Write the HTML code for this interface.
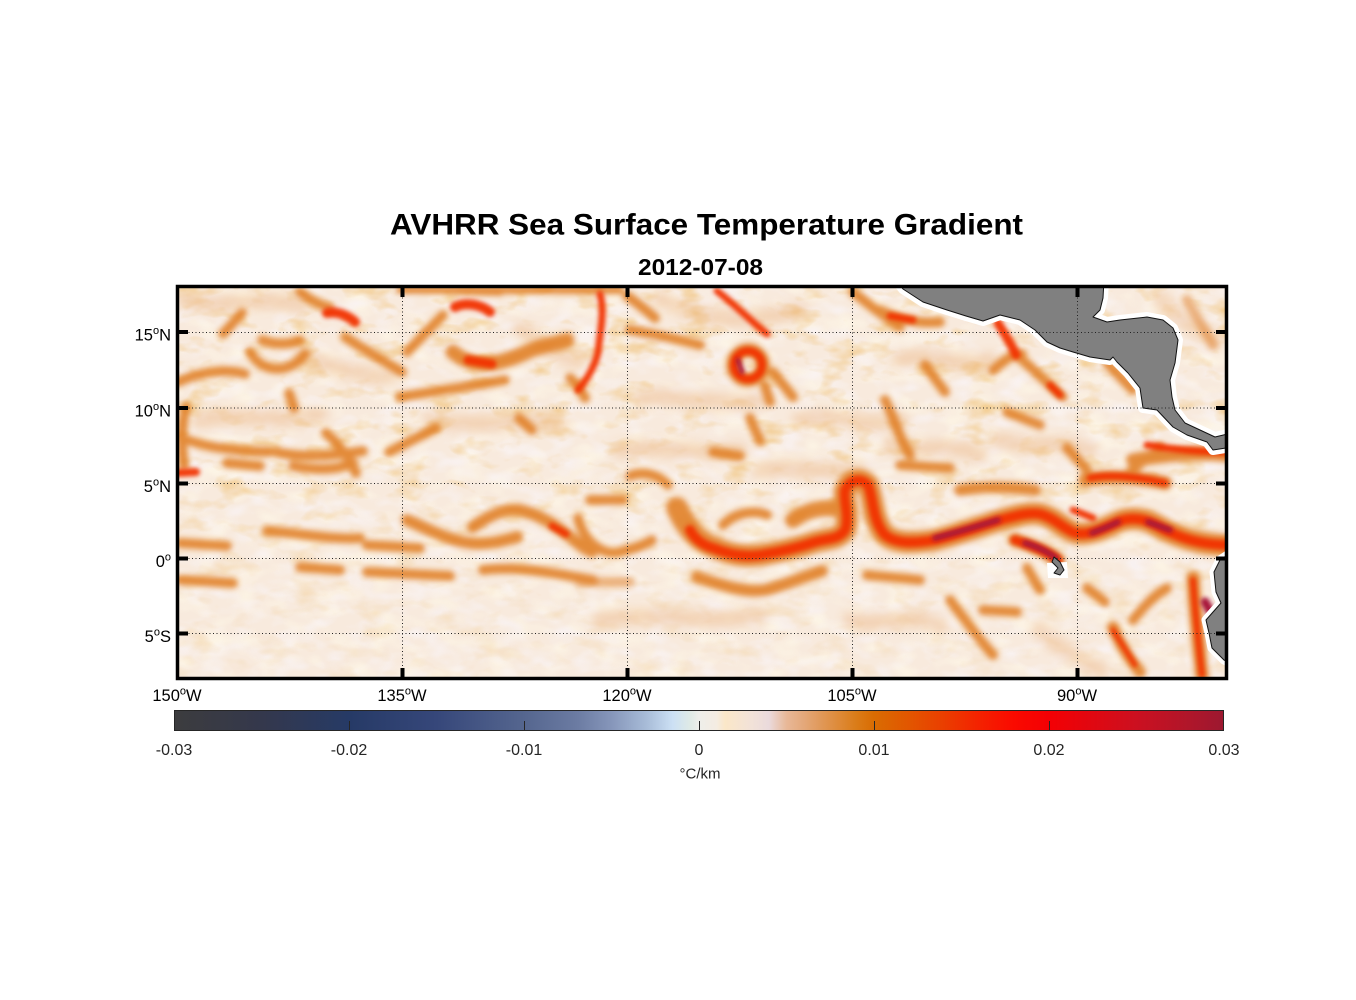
<!DOCTYPE html>
<html><head><meta charset="utf-8"><style>
html,body{margin:0;padding:0;background:#fff;}
svg{display:block;}
</style></head><body>
<svg width="1356" height="1000" viewBox="0 0 1356 1000" xmlns="http://www.w3.org/2000/svg" font-family="'Liberation Sans', Arial, sans-serif">
<defs>
<clipPath id="c"><rect x="178" y="287" width="1048" height="391"/></clipPath>
<filter id="b" x="-5%" y="-5%" width="110%" height="110%"><feGaussianBlur stdDeviation="2.8"/></filter>
<filter id="b1" x="-5%" y="-5%" width="110%" height="110%"><feGaussianBlur stdDeviation="2"/></filter>
<filter id="b2" x="-5%" y="-5%" width="110%" height="110%"><feGaussianBlur stdDeviation="5"/></filter>
<filter id="tex" x="0" y="0" width="100%" height="100%">
<feTurbulence type="fractalNoise" baseFrequency="0.028 0.05" numOctaves="3" seed="7" result="n"/>
<feColorMatrix in="n" type="matrix" values="0 0 0 0 0.87  0 0 0 0 0.52  0 0 0 0 0.16  3.0 0 0 0 -1.6"/>
</filter>
<filter id="tex2" x="0" y="0" width="100%" height="100%">
<feTurbulence type="fractalNoise" baseFrequency="0.04 0.07" numOctaves="2" seed="21" result="n"/>
<feColorMatrix in="n" type="matrix" values="0 0 0 0 0.95  0 0 0 0 0.90  0 0 0 0 0.91  2.6 0 0 0 -1.2"/>
</filter>
<filter id="tex3" x="0" y="0" width="100%" height="100%">
<feTurbulence type="fractalNoise" baseFrequency="0.035 0.06" numOctaves="2" seed="3" result="n"/>
<feColorMatrix in="n" type="matrix" values="0 0 0 0 0.99  0 0 0 0 0.93  0 0 0 0 0.80  2.6 0 0 0 -1.2"/>
</filter>
<linearGradient id="mg" x1="0" y1="0" x2="0" y2="1">
<stop offset="0" stop-color="#fff" stop-opacity="1"/>
<stop offset="0.5" stop-color="#fff" stop-opacity="0.8"/>
<stop offset="0.7" stop-color="#fff" stop-opacity="0.45"/>
<stop offset="1" stop-color="#fff" stop-opacity="0.3"/>
</linearGradient>
<mask id="m"><rect x="178" y="287" width="1048" height="391" fill="url(#mg)"/></mask>
<linearGradient id="cb" x1="0" y1="0" x2="1" y2="0">
<stop offset="0" stop-color="#3c3c3e"/>
<stop offset=".0833" stop-color="#34384c"/>
<stop offset=".1667" stop-color="#263a66"/>
<stop offset=".25" stop-color="#36477a"/>
<stop offset=".3333" stop-color="#55668f"/>
<stop offset=".3833" stop-color="#6b7ba2"/>
<stop offset=".4167" stop-color="#8696ba"/>
<stop offset=".45" stop-color="#a8bcd8"/>
<stop offset=".475" stop-color="#cce0f4"/>
<stop offset=".4917" stop-color="#dfeae6"/>
<stop offset=".5" stop-color="#eeeeea"/>
<stop offset=".5167" stop-color="#f4ece2"/>
<stop offset=".525" stop-color="#fbe7c8"/>
<stop offset=".55" stop-color="#f2e2d8"/>
<stop offset=".5667" stop-color="#eadadc"/>
<stop offset=".5833" stop-color="#e8b898"/>
<stop offset=".6" stop-color="#e4a87a"/>
<stop offset=".6167" stop-color="#e09858"/>
<stop offset=".6333" stop-color="#de8a38"/>
<stop offset=".65" stop-color="#da7c18"/>
<stop offset=".6667" stop-color="#d96c02"/>
<stop offset=".7" stop-color="#e25600"/>
<stop offset=".7333" stop-color="#ea3e00"/>
<stop offset=".7667" stop-color="#f42200"/>
<stop offset=".8" stop-color="#fa0a00"/>
<stop offset=".8333" stop-color="#f40004"/>
<stop offset=".8667" stop-color="#e4060e"/>
<stop offset=".9167" stop-color="#cc1020"/>
<stop offset=".9667" stop-color="#b0162a"/>
<stop offset="1" stop-color="#9c1830"/>
</linearGradient>
</defs>

<!-- Title -->
<text x="706.5" y="234.5" font-size="30" font-weight="bold" text-anchor="middle" textLength="633" lengthAdjust="spacingAndGlyphs" fill="#000">AVHRR Sea Surface Temperature Gradient</text>
<text x="700.5" y="275" font-size="23" font-weight="bold" text-anchor="middle" textLength="125" lengthAdjust="spacingAndGlyphs" fill="#000">2012-07-08</text>

<!-- Map field -->
<g clip-path="url(#c)">
<rect x="178" y="287" width="1048" height="391" fill="#f8eadd"/>
<rect x="178" y="287" width="1048" height="391" filter="url(#tex3)" opacity=".8"/>
<rect x="178" y="287" width="1048" height="391" filter="url(#tex2)" opacity=".8"/>
<g mask="url(#m)"><rect x="178" y="287" width="1048" height="391" filter="url(#tex)" opacity=".75"/></g>
<!-- faint wash -->
<g filter="url(#b2)" fill="none" stroke="#ecb684" stroke-width="16" stroke-linecap="round" opacity=".45">
<path d="M185,300 C230,310 260,295 300,305"/>
<path d="M200,420 C240,410 270,425 320,415"/>
<path d="M430,420 C470,430 520,415 560,425"/>
<path d="M640,400 C680,390 720,410 760,400"/>
<path d="M800,420 C830,410 860,430 900,420"/>
<path d="M900,360 C930,350 960,370 990,360"/>
<path d="M620,450 C660,445 700,455 740,450"/>
<path d="M760,470 C800,465 830,475 860,470"/>
<path d="M600,620 C650,610 700,625 760,615"/>
<path d="M850,620 C880,630 910,610 940,625"/>
<path d="M1040,630 C1060,650 1080,660 1100,670"/>
<path d="M1160,300 C1180,320 1200,330 1215,340"/>
<path d="M890,445 C920,455 950,440 980,455"/>
<path d="M1000,440 C1030,450 1060,440 1090,450"/>
<path d="M300,355 C330,365 360,380 390,375"/>
<path d="M520,330 C540,340 560,360 580,360"/>
<path d="M660,300 C690,310 720,330 800,310"/>
</g>
<!-- orange fronts -->
<g filter="url(#b)" fill="none" stroke="#e07a1c" stroke-width="10" stroke-linecap="round" stroke-linejoin="round" opacity=".85">
<path d="M178,382 C200,372 225,368 245,374"/>
<path d="M250,352 C262,374 290,374 305,354"/>
<path d="M223,334 L242,313"/>
<path d="M345,337 C365,350 385,362 402,372"/>
<path d="M407,352 L443,315"/>
<path d="M400,397 C430,392 470,386 505,380"/>
<path d="M186,407 C180,430 182,450 184,465"/>
<path d="M180,437 C200,446 230,451 269,452"/>
<path d="M276,452 C300,458 330,456 363,451"/>
<path d="M326,433 C340,445 350,460 356,473"/>
<path d="M389,452 L436,428"/>
<path d="M227,463 L260,466"/>
<path d="M293,466 C320,471 340,469 353,463"/>
<path d="M289,393 L294,408"/>
<path d="M519,418 L532,430"/>
<path d="M400,290 L620,290" stroke-width="8"/>
<path d="M570,378 C578,385 582,392 585,398"/>
<path d="M300,292 C310,300 320,305 330,308"/>
<path d="M262,340 C275,345 290,345 300,340"/>
<path d="M440,290 L500,292" stroke-width="8"/>
<path d="M453,352 C470,366 490,369 527,352 C540,346 555,344 567,340" stroke-width="15"/>
<path d="M627,296 C640,305 648,312 655,318"/>
<path d="M630,330 C660,335 680,340 700,345"/>
<path d="M765,386 L770,402"/>
<path d="M773,372 L793,397"/>
<path d="M750,418 L760,441"/>
<path d="M713,452 L740,456"/>
<path d="M630,476 C645,470 660,476 668,485"/>
<path d="M590,500 L623,500"/>
<path d="M578,518 C585,545 605,556 620,552 C635,548 645,545 652,540"/>
<path d="M723,525 C735,512 755,510 767,515"/>
<path d="M793,520 C810,508 830,505 847,512" stroke-width="16"/>
<path d="M853,292 C870,305 885,318 900,327"/>
<path d="M880,310 C900,320 920,324 940,322"/>
<path d="M1016,355 C1030,365 1048,385 1063,397"/>
<path d="M993,370 C1005,360 1015,352 1022,354"/>
<path d="M885,400 C895,420 900,440 910,455"/>
<path d="M925,365 L945,392"/>
<path d="M1007,412 L1040,425"/>
<path d="M1107,363 L1133,390"/>
<path d="M1067,448 L1087,470"/>
<path d="M900,465 L950,468"/>
<path d="M960,490 C990,485 1015,488 1035,490" stroke-width="12"/>
<path d="M1187,300 C1195,315 1205,330 1213,345" opacity=".6"/>
<path d="M677,508 C685,525 695,540 713,547 C730,555 745,557 760,555 C780,552 800,547 815,542 C828,538 838,540 845,530 C850,518 843,500 845,490 C850,480 860,477 868,485 C874,500 872,520 885,535 C895,543 910,544 935,540 C955,535 975,528 1000,520 C1015,516 1028,512 1040,514 C1055,518 1062,528 1075,533 C1090,536 1105,528 1120,521 C1138,515 1152,522 1165,530 C1185,540 1205,545 1230,545" stroke-width="22"/>
<path d="M1085,480 C1110,475 1140,478 1165,483" stroke-width="14"/>
<path d="M1133,460 C1165,455 1195,452 1226,455" stroke-width="14"/>
<path d="M1130,472 L1160,447"/>
<path d="M180,543 L227,546"/>
<path d="M267,531 C300,533 330,540 360,538"/>
<path d="M367,545 L420,548"/>
<path d="M407,520 C430,530 450,541 470,543 C490,545 505,540 517,537" stroke-width="12"/>
<path d="M473,527 C490,515 505,508 520,510 C540,515 555,525 565,533 C575,540 580,547 592,552" stroke-width="12"/>
<path d="M180,580 L233,583"/>
<path d="M300,567 L340,570"/>
<path d="M367,572 L450,576"/>
<path d="M483,570 C520,565 560,575 593,580"/>
<path d="M697,577 C720,585 745,593 765,590 C785,585 805,576 822,571" stroke-width="12"/>
<path d="M867,575 L920,580"/>
<path d="M580,582 L630,582" opacity=".6"/>
<path d="M950,600 C965,620 980,640 993,655"/>
<path d="M1027,568 L1040,590"/>
<path d="M1087,588 L1105,602"/>
<path d="M983,610 L1017,612"/>
<path d="M1193,578 C1195,610 1198,640 1202,675" stroke-width="14"/>
<path d="M1113,627 C1120,645 1130,660 1140,672" stroke-width="12"/>
<path d="M1133,620 C1145,605 1155,595 1167,588"/>
<path d="M1015,540 C1030,545 1045,550 1058,560" stroke-width="14"/>
<circle cx="748" cy="365" r="15" stroke-width="14"/>
</g>
<!-- red cores -->
<g filter="url(#b1)" fill="none" stroke="#f23000" stroke-width="7" stroke-linecap="round" stroke-linejoin="round" opacity=".95">
<path d="M327,313 C338,311 348,316 355,322" stroke-width="10"/>
<path d="M455,307 C465,302 480,304 490,312" stroke-width="10"/>
<path d="M468,360 L492,364" stroke-width="9"/>
<path d="M600,294 C605,312 600,332 598,352 C595,366 588,378 578,390"/>
<path d="M717,291 C735,305 750,320 767,334"/>
<circle cx="748" cy="365" r="14" stroke-width="8"/>
<path d="M890,316 L913,320"/>
<path d="M998,323 C1005,335 1012,345 1016,355" stroke-width="9"/>
<path d="M1050,385 L1060,395"/>
<path d="M690,530 C695,540 705,546 713,548 C730,555 745,557 760,555 C780,552 800,547 815,542 C828,538 838,540 845,530 C850,518 843,500 845,490 C850,480 860,477 868,485 C874,500 872,520 885,535 C895,543 910,544 935,540 C955,535 975,528 1000,520 C1015,516 1028,512 1040,514 C1055,518 1062,528 1075,533 C1090,536 1105,528 1120,521 C1138,515 1152,522 1165,530 C1185,540 1205,545 1230,545" stroke-width="10"/>
<path d="M1090,478 C1110,474 1140,477 1165,483"/>
<path d="M1147,445 C1175,450 1200,452 1226,452"/>
<path d="M1073,510 L1093,518"/>
<path d="M1193,580 C1195,610 1198,640 1202,675" stroke-width="6"/>
<path d="M1113,630 L1135,665" stroke-width="5"/>
<path d="M552,526 L566,534"/>
<path d="M178,473 L196,472" stroke-width="8"/>
<path d="M1015,540 C1030,545 1045,550 1058,560" stroke-width="9"/>
</g>
<!-- crimson cores -->
<g filter="url(#b1)" fill="none" stroke="#a8183a" stroke-width="6" stroke-linecap="round" stroke-linejoin="round">
<path d="M935,538 C955,533 975,527 998,520"/>
<path d="M1092,533 C1100,530 1108,527 1118,522"/>
<path d="M1148,522 L1170,530"/>
<path d="M1025,543 C1038,547 1048,552 1056,558"/>
<path d="M738,360 L742,372" stroke-width="5"/>
<path d="M1205,602 L1213,616" stroke-width="9"/>
</g>
<!-- land -->
<g stroke-linejoin="round">
<path d="M896,280 L903,289 L923,302 L947,310 L966,316 L983,321 L1000,315 L1020,320 L1035,330 L1047,342 L1060,348 L1073,352 L1090,357 L1110,360 L1113,357 L1117,362 L1128,373 L1140,388 L1143,408 L1157,410 L1173,427 L1187,435 L1207,442 L1213,450 L1232,447 L1232,433 L1215,437 L1200,430 L1185,423 L1175,410 L1172,397 L1170,380 L1175,363 L1178,340 L1173,328 L1163,320 L1147,317 L1120,320 L1107,322 L1093,317 L1100,310 L1103,298 L1104,280 Z" fill="#fff" stroke="#fff" stroke-width="10"/>
<path d="M1232,552 L1220,560 L1214,572 L1216,592 L1221,603 L1206,620 L1209,633 L1212,648 L1224,660 L1232,664 Z" fill="#fff" stroke="#fff" stroke-width="9"/>
<path d="M1047,563 L1067,562 L1068,578 L1048,578 Z" fill="#fff"/>
<path d="M896,280 L903,289 L923,302 L947,310 L966,316 L983,321 L1000,315 L1020,320 L1035,330 L1047,342 L1060,348 L1073,352 L1090,357 L1110,360 L1113,357 L1117,362 L1128,373 L1140,388 L1143,408 L1157,410 L1173,427 L1187,435 L1207,442 L1213,450 L1232,447 L1232,433 L1215,437 L1200,430 L1185,423 L1175,410 L1172,397 L1170,380 L1175,363 L1178,340 L1173,328 L1163,320 L1147,317 L1120,320 L1107,322 L1093,317 L1100,310 L1103,298 L1104,280 Z" fill="#808080" stroke="#111" stroke-width="1"/>
<path d="M1232,552 L1220,560 L1214,572 L1216,592 L1221,603 L1206,620 L1209,633 L1212,648 L1224,660 L1232,664 Z" fill="#808080" stroke="#111" stroke-width="1"/>
<path d="M1054,557 L1060,562 L1064,570 L1060,575 L1054,573 L1058,568 L1052,562 Z" fill="#808080" stroke="#111" stroke-width="1"/>
</g>
<!-- grid -->
<g stroke="#222" stroke-width="1" stroke-dasharray="1 2.5" fill="none">
<path d="M402.5,287 V678 M627.5,287 V678 M852.5,287 V678 M1077.5,287 V678"/>
<path d="M178,332.5 H1226 M178,408 H1226 M178,483.5 H1226 M178,558.5 H1226 M178,633.5 H1226"/>
</g>
</g>

<!-- ticks -->
<g fill="#000">
<rect x="179" y="330" width="9" height="4"/>
<rect x="179" y="406" width="9" height="4"/>
<rect x="179" y="481.5" width="9" height="4"/>
<rect x="179" y="556.5" width="9" height="4"/>
<rect x="179" y="631.5" width="9" height="4"/>
<rect x="1216" y="330" width="9" height="4"/>
<rect x="1216" y="406" width="9" height="4"/>
<rect x="1216" y="481.5" width="9" height="4"/>
<rect x="1216" y="556.5" width="9" height="4"/>
<rect x="1216" y="631.5" width="9" height="4"/>
<rect x="400.5" y="288" width="4" height="9"/>
<rect x="625.5" y="288" width="4" height="9"/>
<rect x="850.5" y="288" width="4" height="9"/>
<rect x="1075.5" y="288" width="4" height="9"/>
<rect x="400.5" y="668" width="4" height="9"/>
<rect x="625.5" y="668" width="4" height="9"/>
<rect x="850.5" y="668" width="4" height="9"/>
<rect x="1075.5" y="668" width="4" height="9"/>
</g>
<!-- frame -->
<rect x="177.5" y="286.5" width="1049" height="392" fill="none" stroke="#000" stroke-width="3.5"/>

<!-- axis labels -->
<g font-size="16.5" fill="#000">
<text x="171" y="340.5" text-anchor="end">15<tspan font-size="11" dy="-6.5">o</tspan><tspan dy="6.5">N</tspan></text>
<text x="171" y="416.5" text-anchor="end">10<tspan font-size="11" dy="-6.5">o</tspan><tspan dy="6.5">N</tspan></text>
<text x="171" y="492" text-anchor="end">5<tspan font-size="11" dy="-6.5">o</tspan><tspan dy="6.5">N</tspan></text>
<text x="171" y="567" text-anchor="end">0<tspan font-size="11" dy="-6.5">o</tspan></text>
<text x="171" y="642" text-anchor="end">5<tspan font-size="11" dy="-6.5">o</tspan><tspan dy="6.5">S</tspan></text>
<text x="177" y="701" text-anchor="middle">150<tspan font-size="11" dy="-6.5">o</tspan><tspan dy="6.5">W</tspan></text>
<text x="402" y="701" text-anchor="middle">135<tspan font-size="11" dy="-6.5">o</tspan><tspan dy="6.5">W</tspan></text>
<text x="627" y="701" text-anchor="middle">120<tspan font-size="11" dy="-6.5">o</tspan><tspan dy="6.5">W</tspan></text>
<text x="852" y="701" text-anchor="middle">105<tspan font-size="11" dy="-6.5">o</tspan><tspan dy="6.5">W</tspan></text>
<text x="1077" y="701" text-anchor="middle">90<tspan font-size="11" dy="-6.5">o</tspan><tspan dy="6.5">W</tspan></text>
</g>

<!-- colorbar -->
<rect x="174.5" y="710.5" width="1049" height="20" fill="url(#cb)" stroke="#262626" stroke-width="1"/>
<g stroke="#262626" stroke-width="1">
<path d="M349.5,721 V730 M524.5,721 V730 M699.5,721 V730 M874.5,721 V730 M1049.5,721 V730"/>
</g>
<g font-size="16" fill="#262626" text-anchor="middle">
<text x="174" y="755">-0.03</text>
<text x="349" y="755">-0.02</text>
<text x="524" y="755">-0.01</text>
<text x="699" y="755">0</text>
<text x="874" y="755">0.01</text>
<text x="1049" y="755">0.02</text>
<text x="1224" y="755">0.03</text>
<text x="700" y="778.5" font-size="15">°C/km</text>
</g>
</svg>
</body></html>
